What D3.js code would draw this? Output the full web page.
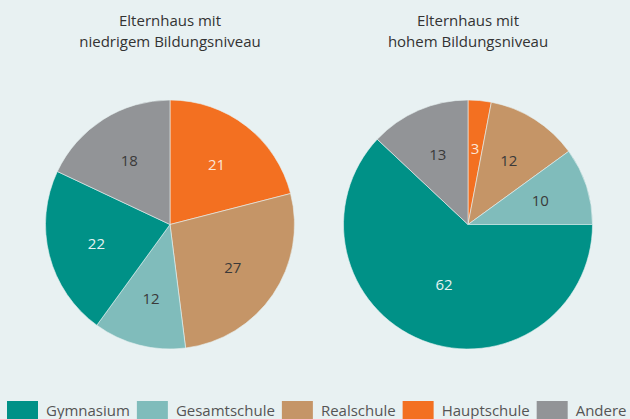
<!DOCTYPE html>
<html>
<head>
<meta charset="utf-8">
<script src="https://cdn.jsdelivr.net/npm/d3@7"></script>
<style>
html,body{margin:0;padding:0;background:#e8f1f2;}
svg{display:block;}
</style>
</head>
<body>
<svg id="chart" width="630" height="419"></svg>
<script>
// Data
const categories = ["Hauptschule", "Realschule", "Gesamtschule", "Gymnasium", "Andere"];
const lowValues = [21, 27, 12, 22, 18];
const highValues = [3, 12, 10, 62, 13];
const pieTitles = [["Elternhaus mit", "niedrigem Bildungsniveau"], ["Elternhaus mit", "hohem Bildungsniveau"]];
const legendOrder = ["Gymnasium", "Gesamtschule", "Realschule", "Hauptschule", "Andere"];

const colors = {
  "Gymnasium": "#009187",
  "Gesamtschule": "#80bcbb",
  "Realschule": "#c59567",
  "Hauptschule": "#f37021",
  "Andere": "#929497"
};
const labelColors = {
  "Gymnasium": "#e6f3f2",
  "Gesamtschule": "#3a3a3a",
  "Realschule": "#3a3a3a",
  "Hauptschule": "#fbe6d8",
  "Andere": "#3a3a3a"
};

const svg = d3.select("#chart");
const font = "'Open Sans', 'Noto Sans', sans-serif";
const radius = 124.5;
const labelR = 76;
const bigLabelR = 65;
const centers = [170, 468];
const cy = 224.5;

const color = d3.scaleOrdinal().domain(categories).range(categories.map(c => colors[c]));
const pie = d3.pie().sort(null).value(d => d.value);
const arc = d3.arc().innerRadius(0).outerRadius(radius);
const labelArc = d3.arc().innerRadius(labelR).outerRadius(labelR);
const bigLabelArc = d3.arc().innerRadius(bigLabelR).outerRadius(bigLabelR);

[lowValues, highValues].forEach((vals, i) => {
  const data = categories.map((c, j) => ({cat: c, value: vals[j]}));
  const g = svg.append("g").attr("transform", `translate(${centers[i]},${cy})`);
  const arcs = pie(data);
  g.selectAll("path").data(arcs).enter().append("path")
    .attr("d", arc)
    .attr("fill", d => color(d.data.cat))
    .attr("stroke", "#e8f1f2")
    .attr("stroke-width", 0.6);
  g.selectAll("text").data(arcs).enter().append("text")
    .attr("transform", d => {
      const big = (d.endAngle - d.startAngle) > Math.PI;
      return `translate(${(big ? bigLabelArc : labelArc).centroid(d)})`;
    })
    .attr("text-anchor", "middle")
    .attr("dy", "0.36em")
    .attr("font-family", font)
    .attr("font-size", 15)
    .attr("fill", d => labelColors[d.data.cat])
    .text(d => d.data.value);

  const t = svg.append("text")
    .attr("x", centers[i])
    .attr("text-anchor", "middle")
    .attr("font-family", font)
    .attr("font-size", 15)
    .attr("fill", "#333");
  pieTitles[i].forEach((line, k) => {
    t.append("tspan").attr("x", centers[i]).attr("y", 26 + k * 21).text(line);
  });
});

// Legend
const legend = svg.append("g");
let x = 7;
legendOrder.forEach(c => {
  legend.append("rect")
    .attr("x", x).attr("y", 401)
    .attr("width", 31).attr("height", 18)
    .attr("fill", colors[c]);
  const tx = legend.append("text")
    .attr("x", x + 39).attr("y", 416)
    .attr("font-family", font)
    .attr("font-size", 15)
    .attr("fill", "#555")
    .text(c);
  const w = tx.node().getComputedTextLength();
  x = x + 39 + w + 7;
});
</script>
</body>
</html>
